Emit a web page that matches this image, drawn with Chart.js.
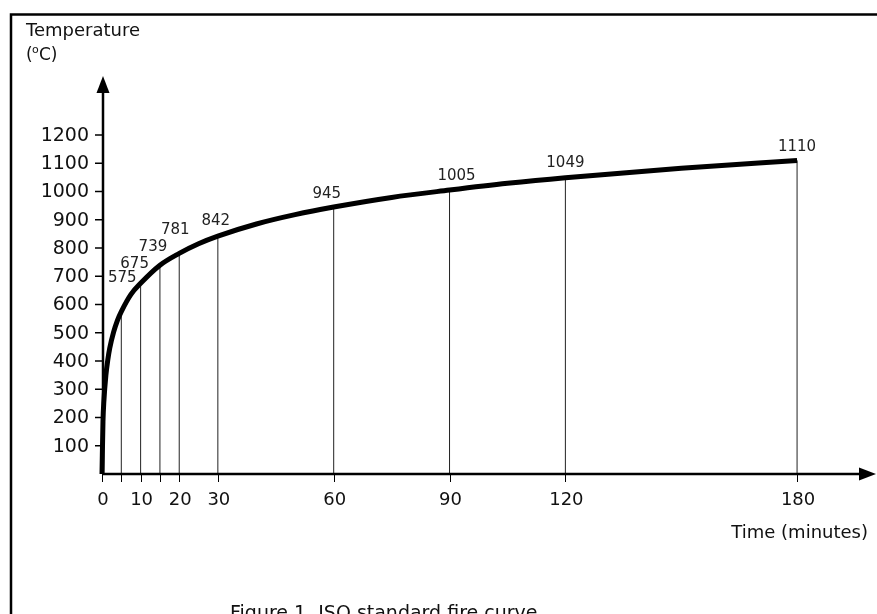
<!DOCTYPE html>
<html>
<head>
<meta charset="utf-8">
<script src="https://cdn.jsdelivr.net/npm/chart.js@4"></script>
<style>
  html, body { margin: 0; padding: 0; background: #fff; }
  #fire { display: block; }
</style>
</head>
<body>
<canvas id="fire" width="877" height="614"></canvas>
<script>
// ISO standard fire curve
const curveTimes = [0, 0.25, 0.5, 1, 1.5, 2, 3, 4, 5, 7.5, 10, 15, 20, 25, 30, 40, 50, 60, 75, 90, 105, 120, 150, 180];
const curveTemps = [0, 185, 261, 349, 404, 445, 502, 544, 575, 636, 675, 739, 781, 815, 842, 885, 918, 945, 979, 1005, 1029, 1049, 1082, 1110];

// marked times (drop lines + value labels)
const markTimes = [5, 10, 15, 20, 30, 60, 90, 120, 180];
const markTemps = [575, 675, 739, 781, 842, 945, 1005, 1049, 1110];

const xTickValues = [0, 10, 20, 30, 60, 90, 120, 180];
const yTickValues = [100, 200, 300, 400, 500, 600, 700, 800, 900, 1000, 1100, 1200];

const FONT = '"DejaVu Sans", "Liberation Sans", sans-serif';
const INK = '#111';

// drop lines: vertical segments separated by gaps
const dropData = [];
markTimes.forEach((t, i) => {
  dropData.push({ x: t, y: 0 }, { x: t, y: markTemps[i] }, { x: t, y: null });
});

const figurePlugin = {
  id: 'figure',
  beforeDraw(chart) {
    const c = chart.ctx;
    c.save();
    c.fillStyle = '#fff';
    c.fillRect(0, 0, chart.width, chart.height);
    c.restore();
  },
  afterDraw(chart) {
    const c = chart.ctx;
    const xs = chart.scales.x, ys = chart.scales.y;
    const x0 = xs.getPixelForValue(0) + 1;
    const y0 = ys.getPixelForValue(0);
    c.save();

    // frame (top + left edge)
    c.strokeStyle = '#000';
    c.lineWidth = 2.5;
    c.beginPath();
    c.moveTo(11, 614); c.lineTo(11, 14.5); c.lineTo(877, 14.5);
    c.stroke();

    // axes with arrow heads
    c.lineWidth = 2.5;
    c.beginPath();
    c.moveTo(x0, y0); c.lineTo(x0, 90);
    c.moveTo(x0 - 1, y0); c.lineTo(863, y0);
    c.stroke();
    c.fillStyle = '#000';
    c.beginPath();
    c.moveTo(x0, 76); c.lineTo(x0 - 6.5, 93); c.lineTo(x0 + 6.5, 93); c.closePath();
    c.fill();
    c.beginPath();
    c.moveTo(876, y0); c.lineTo(859, y0 - 6.5); c.lineTo(859, y0 + 6.5); c.closePath();
    c.fill();

    // y ticks + labels
    c.lineWidth = 1.5;
    c.font = '19px ' + FONT;
    c.fillStyle = INK;
    c.textAlign = 'right';
    c.textBaseline = 'middle';
    yTickValues.forEach(v => {
      const y = ys.getPixelForValue(v);
      c.beginPath(); c.moveTo(x0 - 8, y); c.lineTo(x0, y); c.stroke();
      c.fillText(String(v), x0 - 14, y + 1);
    });

    // x ticks (at every marked time) + labels
    c.lineWidth = 1;
    [0].concat(markTimes).forEach(t => {
      const x = Math.round(xs.getPixelForValue(t)) + 0.5;
      c.beginPath(); c.moveTo(x, y0); c.lineTo(x, y0 + 8); c.stroke();
    });
    c.textAlign = 'center';
    c.font = '18px ' + FONT;
    xTickValues.forEach(t => {
      c.fillText(String(t), xs.getPixelForValue(t) + 1, 500);
    });

    // value labels above the drop lines
    const offs = [[1, -33], [-6, -19], [-7, -18], [-4, -23], [-2, -15], [-7, -13], [7, -14], [0, -15], [0, -13]];
    c.font = '15px ' + FONT;
    c.fillStyle = '#222';
    markTimes.forEach((t, i) => {
      const x = xs.getPixelForValue(t) + offs[i][0];
      const y = ys.getPixelForValue(markTemps[i]) + offs[i][1];
      c.fillText(String(markTemps[i]), x, y);
    });

    // axis titles
    c.fillStyle = INK;
    c.textAlign = 'left';
    c.font = '18px ' + FONT;
    c.fillText('Temperature', 26, 31);
    c.font = '17px ' + FONT;
    c.fillText('(', 26, 56);
    c.font = '11px ' + FONT;
    c.fillText('o', 32, 50);
    c.font = '17px ' + FONT;
    c.fillText('C)', 39, 56);

    c.textAlign = 'right';
    c.font = '18px ' + FONT;
    c.fillText('Time (minutes)', 868, 533);

    // caption (cut by the bottom edge, as in the figure)
    c.textAlign = 'left';
    c.textBaseline = 'alphabetic';
    c.font = '19px ' + FONT;
    c.fillText('Figure 1. ISO standard fire curve.', 230, 619);

    c.restore();
  }
};

new Chart(document.getElementById('fire'), {
  type: 'line',
  data: {
    datasets: [
      {
        label: 'ISO 834',
        data: curveTimes.map((t, i) => ({ x: t, y: curveTemps[i] })),
        borderColor: '#000',
        borderWidth: 5,
        cubicInterpolationMode: 'monotone',
        pointRadius: 0,
        borderCapStyle: 'butt',
        clip: false,
        order: 0
      },
      {
        label: 'marks',
        data: dropData,
        borderColor: '#222',
        borderWidth: 1,
        pointRadius: 0,
        spanGaps: false,
        order: 1
      }
    ]
  },
  options: {
    responsive: false,
    animation: false,
    events: [],
    layout: { padding: { left: 102, right: 22, top: 78.5, bottom: 140 } },
    scales: {
      x: { type: 'linear', min: 0, max: 195, display: false },
      y: { type: 'linear', min: 0, max: 1400, display: false }
    },
    plugins: {
      legend: { display: false },
      tooltip: { enabled: false }
    }
  },
  plugins: [figurePlugin]
});
</script>
</body>
</html>
